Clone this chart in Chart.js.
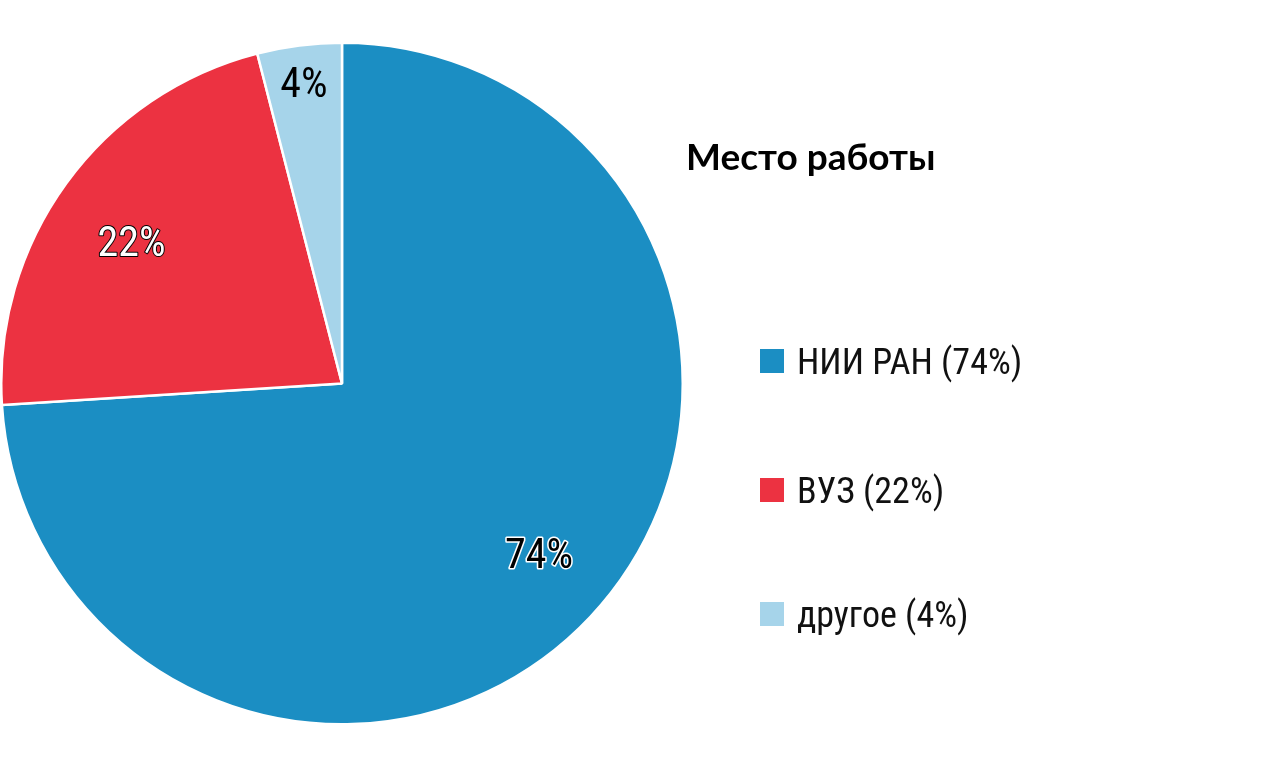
<!DOCTYPE html>
<html>
<head>
<meta charset="utf-8">
<script src="https://cdn.jsdelivr.net/npm/chart.js@4.4.1/dist/chart.umd.min.js"></script>
<style>
  html, body { margin:0; padding:0; background:#fff; }
  #wrap { position:relative; width:1261px; height:774px; }
</style>
</head>
<body>
<div id="wrap"><canvas id="pieChart" width="1261" height="774"></canvas></div>
<script>
"use strict";
const chartTitle = 'Место работы';
const categories = ['НИИ РАН', 'ВУЗ', 'другое'];
const shares     = [74, 22, 4];
const colors     = ['#1B8EC3', '#EC3241', '#A6D4EA'];

// подписи внутри секторов: доля радиуса, сдвиг угла (град) и стиль
const labelStyle = [
  { r:0.765, da:-2.3, fill:'#000', stroke:'#fff', lw:3 },
  { r:0.745, da:-2,   fill:'#fff', stroke:'#000', lw:2 },
  { r:0.89,  da:0,    fill:'#000', stroke:null,   lw:0 },
];

const sliceLabels = {
  id:'sliceLabels',
  afterDatasetsDraw(chart) {
    const {ctx} = chart;
    const meta = chart.getDatasetMeta(0);
    meta.data.forEach((arc, i) => {
      const p = arc.getProps(['x','y','startAngle','endAngle','outerRadius'], true);
      const st = labelStyle[i];
      const mid = (p.startAngle + p.endAngle) / 2 + st.da * Math.PI / 180;
      const x = p.x + Math.cos(mid) * p.outerRadius * st.r;
      const y = p.y + Math.sin(mid) * p.outerRadius * st.r;
      const txt = shares[i] + '%';
      ctx.save();
      ctx.font = '400 42px "Roboto Condensed", sans-serif';
      ctx.textAlign = 'center';
      ctx.textBaseline = 'alphabetic';
      const yb = y + 14;
      if (st.stroke) {
        ctx.strokeStyle = st.stroke; ctx.lineWidth = st.lw; ctx.lineJoin = 'round';
        ctx.strokeText(txt, x, yb);
      }
      ctx.fillStyle = st.fill;
      ctx.fillText(txt, x, yb);
      ctx.restore();
    });
  }
};

const sideLegend = {
  id:'sideLegend',
  afterDraw(chart) {
    const {ctx} = chart;
    const ds = chart.data.datasets[0];
    ctx.save();
    ctx.fillStyle = '#000';
    ctx.font = '700 37px Lato, sans-serif';
    ctx.textAlign = 'left';
    ctx.textBaseline = 'alphabetic';
    ctx.fillText(chartTitle, 686, 170);
    const rowsY = [361, 490, 614];
    chart.data.labels.forEach((lab, i) => {
      const cy = rowsY[i];
      ctx.fillStyle = ds.backgroundColor[i];
      ctx.fillRect(760, cy - 12, 24, 24);
      ctx.fillStyle = '#111';
      ctx.font = '400 36px "Roboto Condensed", sans-serif';
      ctx.fillText(`${lab} (${ds.data[i]}%)`, 797, cy + 13);
    });
    ctx.restore();
  }
};

new Chart(document.getElementById('pieChart').getContext('2d'), {
  type:'pie',
  data:{
    labels:categories,
    datasets:[{
      data:shares,
      backgroundColor:colors,
      borderColor:'#fff',
      borderWidth:2.5,
    }]
  },
  options:{
    responsive:false,
    animation:false,
    layout:{ padding:{ left:0, top:41, right:577, bottom:48 } },
    plugins:{
      legend:{ display:false },
      tooltip:{ enabled:false },
    }
  },
  plugins:[sliceLabels, sideLegend]
});
</script>
</body>
</html>
